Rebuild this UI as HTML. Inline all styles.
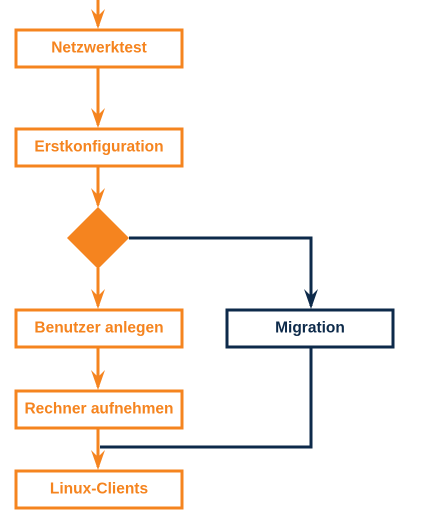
<!DOCTYPE html>
<html><head><style>
body{margin:0;background:#fff;}
svg{display:block;}
text{font-family:"Liberation Sans",sans-serif;font-size:15.5px;font-weight:bold;text-anchor:middle;dominant-baseline:central;}
</style></head><body>
<svg width="426" height="522" viewBox="0 0 426 522">
<g stroke="#f5841f" stroke-width="3" fill="none">
<line x1="98" y1="0" x2="98" y2="26"/>
<line x1="98" y1="68" x2="98" y2="125"/>
<line x1="98" y1="167" x2="98" y2="205"/>
<line x1="98" y1="268" x2="98" y2="306"/>
<line x1="98" y1="348" x2="98" y2="387"/>
<line x1="98" y1="429" x2="98" y2="467"/>
<rect x="16" y="30" width="166" height="37"/>
<rect x="16" y="129" width="166" height="37"/>
<rect x="16" y="310" width="166" height="37"/>
<rect x="16" y="391" width="166" height="37"/>
<rect x="16" y="471" width="166" height="37"/>
</g>
<g fill="#f5841f">
<polygon points="98,29 91,9 98,16 105,9"/>
<polygon points="98,128 91,108 98,115 105,108"/>
<polygon points="98,208 91,188 98,195 105,188"/>
<polygon points="98,309 91,289 98,296 105,289"/>
<polygon points="98,390 91,370 98,377 105,370"/>
<polygon points="98,470 91,450 98,457 105,450"/>
<polygon points="98,207 129,238 98,269 67,238"/>
</g>
<g stroke="#0d2a4a" stroke-width="3" fill="none">
<polyline points="129,238 311,238 311,306"/>
<polyline points="311,348 311,447 100,447"/>
<rect x="227" y="310" width="166" height="37"/>
</g>
<polygon fill="#0d2a4a" points="311,309 304,289 311,296 318,289"/>
<g fill="#f5841f">
<text x="99" y="48">Netzwerktest</text>
<text x="99" y="147">Erstkonfiguration</text>
<text x="99" y="328">Benutzer anlegen</text>
<text x="99" y="409">Rechner aufnehmen</text>
<text x="99" y="489">Linux-Clients</text>
</g>
<text x="310" y="328" fill="#0d2a4a">Migration</text>
</svg>
</body></html>
